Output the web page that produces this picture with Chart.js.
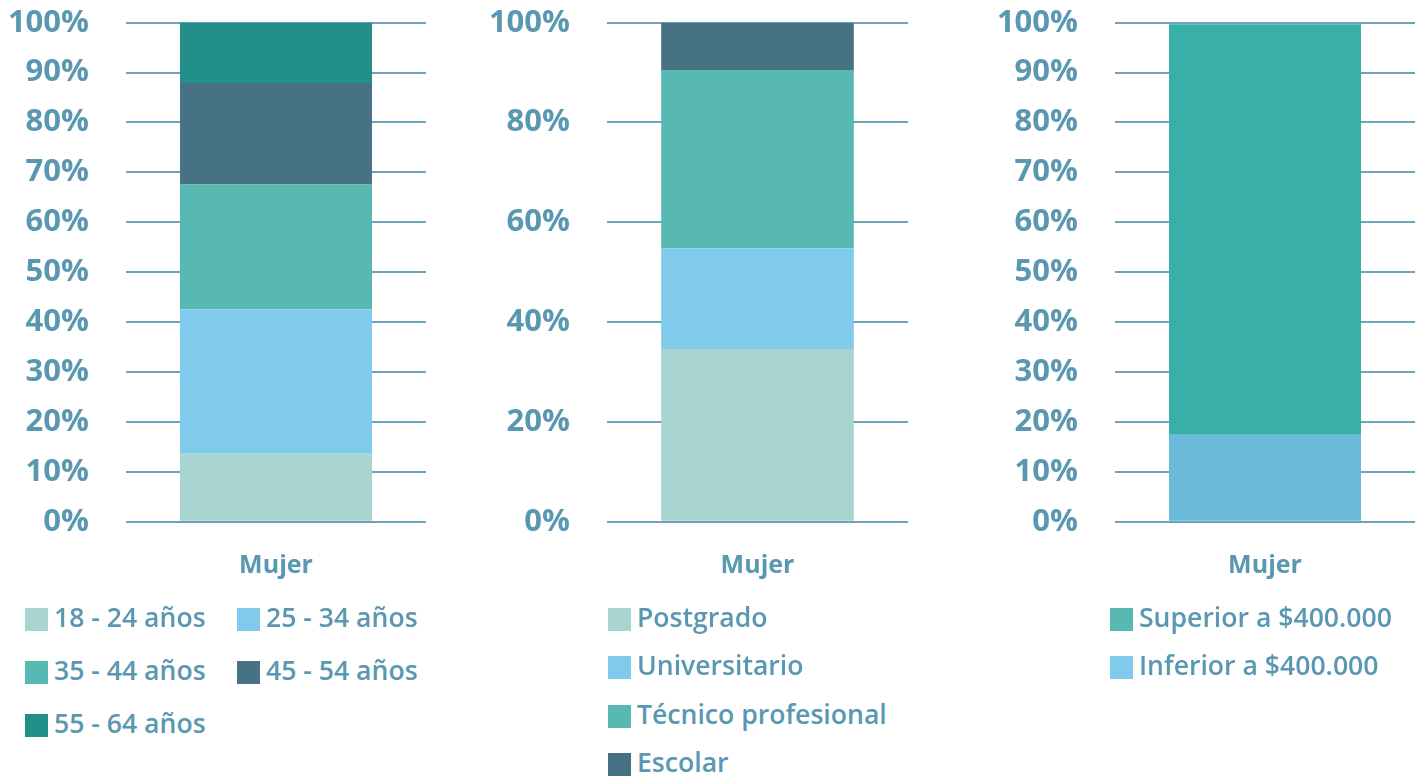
<!DOCTYPE html>
<html lang="es">
<head>
<meta charset="utf-8">
<title>Perfil Mujer</title>
<script src="https://cdn.jsdelivr.net/npm/chart.js@4.4.0/dist/chart.umd.min.js"></script>
<style>
    html, body { margin: 0; padding: 0; background: #fff; overflow: hidden; }
    body { width: 1420px; height: 776px; position: relative; font-family: "Open Sans", sans-serif; }
    canvas { position: absolute; top: 0; }
    .leyenda { position: absolute; display: grid; align-items: start; color: #5a97b1; font-size: 26.6px; font-weight: 600; }
    .leyenda .item { display: flex; align-items: center; height: 23px; white-space: nowrap; }
    .leyenda .caja { width: 23px; height: 23px; margin-right: 6px; flex: none; }
    .leyenda .texto { line-height: 23px; position: relative; top: -2px; }
</style>
</head>
<body>
<canvas id="graficoEdad" width="426" height="600" style="left:0px"></canvas>
<canvas id="graficoEstudios" width="448" height="600" style="left:460px"></canvas>
<canvas id="graficoIngreso" width="455" height="600" style="left:960px"></canvas>

<div id="leyendaEdad" class="leyenda" style="left:25px; top:608px; grid-template-columns:212px auto; grid-auto-rows:53px;"></div>
<div id="leyendaEstudios" class="leyenda" style="left:608px; top:608px; grid-auto-rows:48.3px;"></div>
<div id="leyendaIngreso" class="leyenda" style="left:1110px; top:608px; grid-auto-rows:47.5px;"></div>

<script>
const categorias = ['Mujer'];

// edad
const rangosEdad = ['18 - 24 años', '25 - 34 años', '35 - 44 años', '45 - 54 años', '55 - 64 años'];
const valoresEdad = [13.6, 29.0, 25.0, 20.3, 12.1];
const coloresEdad = ['#a8d5d1', '#80cbec', '#57b9b2', '#477284', '#229088'];

// nivel de estudios
const nivelesEstudio = ['Postgrado', 'Universitario', 'Técnico profesional', 'Escolar'];
const valoresEstudio = [34.6, 20.2, 35.7, 9.5];
const coloresEstudio = ['#a8d5d1', '#80cbec', '#57b9b2', '#477284'];

// ingreso (orden de la leyenda)
const rangosIngreso = ['Superior a $400.000', 'Inferior a $400.000'];
const valoresIngreso = [82.1, 17.6];
const coloresIngreso = ['#38b0a8', '#69bbd9'];
const coloresLeyendaIngreso = ['#57b9b2', '#80cbec'];

const colorTexto = '#5a97b1';
const colorGrilla = '#6fa3bb';
const fuente = '"Open Sans", sans-serif';

function crearGrafico(idCanvas, etiquetas, valores, colores, paso, anchoEje)
{
    const datasets = etiquetas.map(function(etiqueta, i) {
        return {
            label: etiqueta,
            data: [valores[i]],
            backgroundColor: colores[i],
            borderWidth: 0,
            categoryPercentage: 0.8,
            barPercentage: 0.8
        };
    });

    return new Chart(document.getElementById(idCanvas), {
        type: 'bar',
        data: {
            labels: categorias,
            datasets: datasets
        },
        options: {
            responsive: false,
            animation: false,
            layout: {
                padding: { top: 22.7, right: 0, bottom: 0, left: 0 }
            },
            plugins: {
                legend: { display: false },
                tooltip: { enabled: false }
            },
            scales: {
                x: {
                    stacked: true,
                    grid: { display: false },
                    border: { display: false },
                    ticks: {
                        color: colorTexto,
                        padding: 21,
                        font: { family: fuente, size: 25, weight: 'bold' }
                    },
                    afterFit: function(scale) { scale.height = 78.3; }
                },
                y: {
                    stacked: true,
                    min: 0,
                    max: 100,
                    border: { display: false },
                    grid: {
                        color: colorGrilla,
                        lineWidth: 2,
                        drawTicks: false
                    },
                    ticks: {
                        stepSize: paso,
                        padding: 37,
                        color: colorTexto,
                        font: { family: fuente, size: 31, weight: 'bold' },
                        callback: function(v) { return v + '%'; }
                    },
                    afterFit: function(scale) {
                        // ancho fijo del eje y sin reservar margen extra arriba/abajo
                        scale.width = anchoEje;
                        scale.paddingTop = 0;
                        scale.paddingBottom = 0;
                    }
                }
            }
        }
    });
}

function crearLeyenda(idLeyenda, etiquetas, colores)
{
    const cont = document.getElementById(idLeyenda);
    etiquetas.forEach(function(etiqueta, i) {
        const item = document.createElement('div');
        item.className = 'item';
        const caja = document.createElement('span');
        caja.className = 'caja';
        caja.style.background = colores[i];
        const texto = document.createElement('span');
        texto.className = 'texto';
        texto.textContent = etiqueta;
        item.appendChild(caja);
        item.appendChild(texto);
        cont.appendChild(item);
    });
}

crearGrafico('graficoEdad', rangosEdad, valoresEdad, coloresEdad, 10, 126);
crearGrafico('graficoEstudios', nivelesEstudio, valoresEstudio, coloresEstudio, 20, 147);
// la barra de ingreso se apila de abajo hacia arriba: inferior primero
crearGrafico('graficoIngreso', rangosIngreso.slice().reverse(), valoresIngreso.slice().reverse(), coloresIngreso.slice().reverse(), 10, 155);

crearLeyenda('leyendaEdad', rangosEdad, coloresEdad);
crearLeyenda('leyendaEstudios', nivelesEstudio, coloresEstudio);
crearLeyenda('leyendaIngreso', rangosIngreso, coloresLeyendaIngreso);
</script>
</body>
</html>
